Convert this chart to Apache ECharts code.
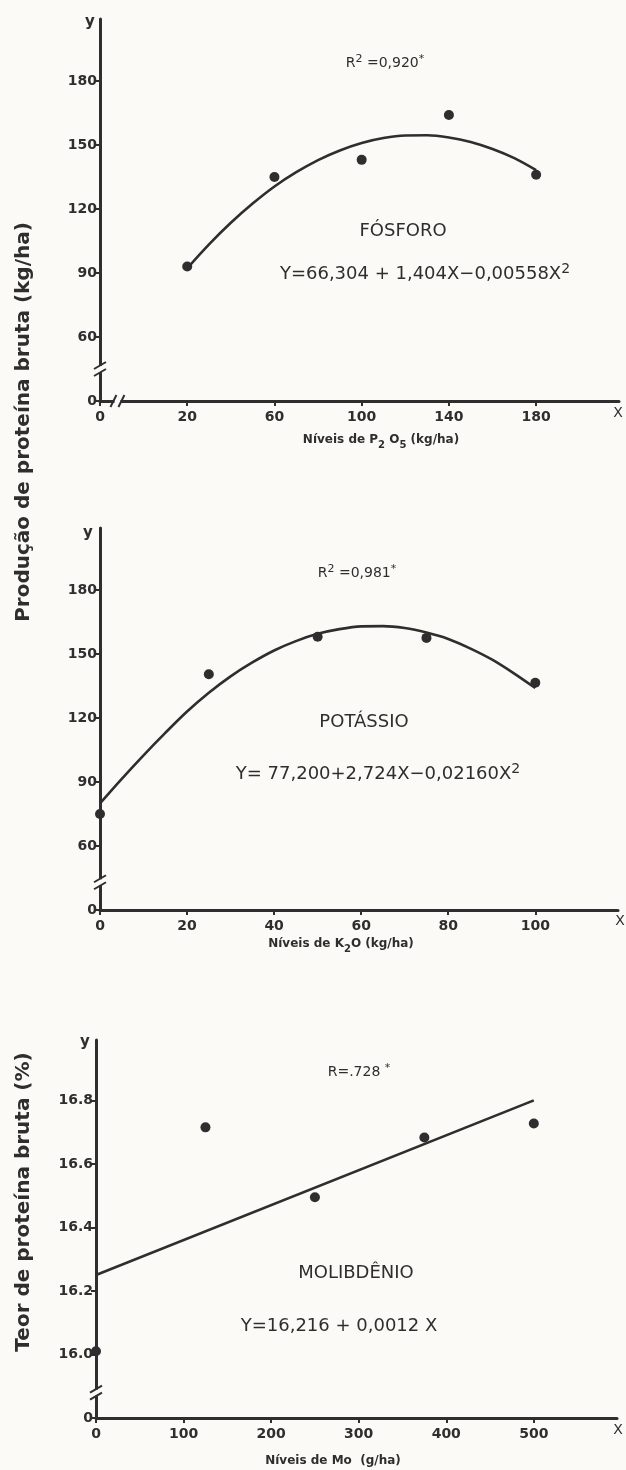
<!DOCTYPE html>
<html><head><meta charset="utf-8">
<script src="https://cdn.jsdelivr.net/npm/echarts@6/dist/echarts.min.js"></script>
<style>html,body{margin:0;padding:0;background:#fbfaf6;} #c{width:626px;height:1470px;}</style>
</head><body><div id="c"></div>
<script>
// ---- data ----
const pLevels = [20, 60, 100, 140, 180];
const pProtein = [93, 135, 143, 164, 136];
const pFitX = [20, 30, 40, 50, 60, 70, 80, 90, 100, 110, 120, 130, 140, 150, 160, 170, 180];
const pFitY = [92.2, 103.4, 113.5, 122.5, 130.5, 137.2, 142.9, 147.4, 150.9, 153.2, 154.4, 154.5, 153.5, 151.4, 148.1, 143.8, 138.2];

const kLevels = [0, 25, 50, 75, 100];
const kProtein = [75, 140.5, 158, 157.5, 136.5];
const kFitX = [0, 5, 10, 15, 20, 25, 30, 35, 40, 45, 50, 55, 60, 65, 70, 75, 80, 85, 90, 95, 100];
const kFitY = [80, 91.5, 102.5, 113, 123, 131.8, 139.5, 146, 151.6, 156, 159.4, 161.6, 162.9, 163, 162.1, 160, 157, 152.6, 147.4, 141, 134];

const moLevels = [0, 125, 250, 375, 500];
const moProtein = [16.01, 16.715, 16.495, 16.683, 16.727];
const moFitX = [0, 500];
const moFitY = [16.25, 16.80];

const yTicksProd = [30, 60, 90, 120, 150, 180];          // 30 is drawn as the broken-axis "0"
const yTicksTeor = [15.8, 16.0, 16.2, 16.4, 16.6, 16.8]; // 15.8 drawn as "0"

const INK = '#2e2e2e';
const FONT = '"DejaVu Sans", sans-serif';

function zip(a, b) { return a.map((v, i) => [v, b[i]]); }

function xAxisCfg(gi, min, max, interval, zeroAt) {
  return {
    type: 'value', gridIndex: gi, min: min, max: max, interval: interval,
    axisLine: { onZero: false, lineStyle: { color: INK, width: 3 } },
    axisTick: { length: 5, lineStyle: { color: INK, width: 2 } },
    splitLine: { show: false },
    axisLabel: {
      color: INK, fontSize: 14, fontWeight: 'bold', fontFamily: FONT, margin: 9, showMaxLabel: false,
      formatter: v => (Math.abs(v - zeroAt) < 1e-9 ? '0' : String(v))
    }
  };
}
function yAxisCfg(gi, min, max, interval, dec) {
  return {
    type: 'value', gridIndex: gi, min: min, max: max, interval: interval,
    axisLine: { onZero: false, lineStyle: { color: INK, width: 3 } },
    axisTick: { length: 5, lineStyle: { color: INK, width: 2 } },
    splitLine: { show: false },
    axisLabel: {
      color: INK, fontSize: 14, fontWeight: 'bold', fontFamily: FONT, margin: 3, showMaxLabel: false,
      formatter: v => (Math.abs(v - min) < 1e-9 ? '0' : Number(v).toFixed(dec))
    }
  };
}

const chart = echarts.init(document.getElementById('c'), null, { renderer: 'canvas' });

const lineStyle = { color: INK, width: 2.6 };
const dotStyle = { color: INK, opacity: 1 };
const option = {
  backgroundColor: '#fbfaf6',
  animation: false,
  grid: [
    { left: 100, top: 19, width: 519, height: 382 },
    { left: 100, top: 528, width: 518, height: 382 },
    { left: 96, top: 1040, width: 521, height: 378 }
  ],
  xAxis: [
    xAxisCfg(0, -20, 218, 40, -20),
    xAxisCfg(1, 0, 119, 20, 0),
    xAxisCfg(2, 0, 595, 100, 0)
  ],
  yAxis: [
    yAxisCfg(0, yTicksProd[0], 209, 30, 0),
    yAxisCfg(1, yTicksProd[0], 209, 30, 0),
    yAxisCfg(2, yTicksTeor[0], 16.99, 0.2, 1)
  ],
  series: [
    { type: 'line', xAxisIndex: 0, yAxisIndex: 0, data: zip(pFitX, pFitY), smooth: 0.3, symbol: 'none', lineStyle: lineStyle },
    { type: 'scatter', xAxisIndex: 0, yAxisIndex: 0, data: zip(pLevels, pProtein), symbolSize: 10, itemStyle: dotStyle },
    { type: 'line', xAxisIndex: 1, yAxisIndex: 1, data: zip(kFitX, kFitY), smooth: 0.3, symbol: 'none', lineStyle: lineStyle },
    { type: 'scatter', xAxisIndex: 1, yAxisIndex: 1, data: zip(kLevels, kProtein), symbolSize: 10, itemStyle: dotStyle },
    { type: 'line', xAxisIndex: 2, yAxisIndex: 2, data: zip(moFitX, moFitY), symbol: 'none', lineStyle: lineStyle },
    { type: 'scatter', xAxisIndex: 2, yAxisIndex: 2, data: zip(moLevels, moProtein), symbolSize: 10, itemStyle: dotStyle }
  ]
};
chart.setOption(option);

// ---- annotations ----
const BG = '#fbfaf6';
const g = [];
function txt(x, y, text, fontSize, opts) {
  opts = opts || {};
  g.push({
    type: 'text', x: x, y: y, rotation: opts.rotation || 0, z: 100,
    style: {
      text: text, fill: INK, align: 'center', verticalAlign: 'middle',
      font: (opts.bold ? 'bold ' : '') + fontSize + 'px ' + FONT,
      rich: opts.rich
    }
  });
}
function supRich(size) {
  return {
    n: { fontSize: size, fontFamily: FONT, color: INK, lineHeight: size + 3, verticalAlign: 'bottom' },
    sup: { fontSize: Math.round(size * 0.75), fontFamily: FONT, color: INK, lineHeight: size + 3, verticalAlign: 'top' }
  };
}
function subRich(size) {
  return {
    n: { fontSize: size, fontFamily: FONT, fontWeight: 'bold', color: INK, lineHeight: size + 5, verticalAlign: 'top' },
    sub: { fontSize: Math.round(size * 0.85), fontFamily: FONT, fontWeight: 'bold', color: INK, lineHeight: size + 5, verticalAlign: 'bottom' }
  };
}

// Panel 1
txt(385, 62, '{n|R}{sup|2}{n| =0,920}{sup|*}', 14, { rich: supRich(14) });
txt(403, 231, 'FÓSFORO', 18);
txt(425, 273, '{n|Y=66,304 + 1,404X−0,00558X}{sup|2}', 18, { rich: supRich(18) });
txt(381, 442, '{n|Níveis de P}{sub|2}{n| O}{sub|5}{n| (kg/ha)}', 12, { rich: subRich(12) });
txt(90, 22, 'y', 15, { bold: true });
txt(618, 413, 'X', 14);

// Panel 2
txt(357, 572, '{n|R}{sup|2}{n| =0,981}{sup|*}', 14, { rich: supRich(14) });
txt(364, 722, 'POTÁSSIO', 18);
txt(378, 773, '{n|Y= 77,200+2,724X−0,02160X}{sup|2}', 18, { rich: supRich(18) });
txt(341, 946, '{n|Níveis de K}{sub|2}{n|O (kg/ha)}', 12, { rich: subRich(12) });
txt(88, 533, 'y', 15, { bold: true });
txt(620, 921, 'X', 14);

// Panel 3
txt(359, 1071, '{n|R=.728 }{sup|*}', 14, { rich: supRich(14) });
txt(356, 1273, 'MOLIBDÊNIO', 18);
txt(339, 1326, 'Y=16,216 + 0,0012 X', 18);
txt(333, 1461, 'Níveis de Mo  (g/ha)', 12, { bold: true });
txt(85, 1042, 'y', 15, { bold: true });
txt(618, 1430, 'X', 14);

// Axis titles (vertical)
txt(24, 422, 'Produção de proteína bruta (kg/ha)', 20, { bold: true, rotation: Math.PI / 2 });
txt(24, 1202, 'Teor de proteína bruta (%)', 20, { bold: true, rotation: Math.PI / 2 });

// ---- axis break marks, placed through the axes ----
function yBreak(gi, yVal) {
  const p = chart.convertToPixel({ gridIndex: gi }, [option.xAxis[gi].min, yVal]);
  const ax = p[0], by = p[1];
  g.push({ type: 'rect', z: 99, shape: { x: ax - 3, y: by - 3, width: 6, height: 6 }, style: { fill: BG } });
  g.push({ type: 'line', z: 100, shape: { x1: ax - 6, y1: by - 0, x2: ax + 6, y2: by - 7 }, style: { stroke: INK, lineWidth: 2 } });
  g.push({ type: 'line', z: 100, shape: { x1: ax - 6, y1: by + 7, x2: ax + 6, y2: by }, style: { stroke: INK, lineWidth: 2 } });
}
function xBreak(gi, xVal) {
  const p = chart.convertToPixel({ gridIndex: gi }, [xVal, option.yAxis[gi].min]);
  const bx = p[0], ay = p[1];
  g.push({ type: 'rect', z: 99, shape: { x: bx - 3, y: ay - 3, width: 6, height: 6 }, style: { fill: BG } });
  g.push({ type: 'line', z: 100, shape: { x1: bx - 7, y1: ay + 6, x2: bx - 1, y2: ay - 6 }, style: { stroke: INK, lineWidth: 2 } });
  g.push({ type: 'line', z: 100, shape: { x1: bx + 1, y1: ay + 6, x2: bx + 7, y2: ay - 6 }, style: { stroke: INK, lineWidth: 2 } });
}
yBreak(0, 45);
xBreak(0, -12);
yBreak(1, 43);
yBreak(2, 15.88);

chart.setOption({ graphic: g });
</script>
</body></html>
